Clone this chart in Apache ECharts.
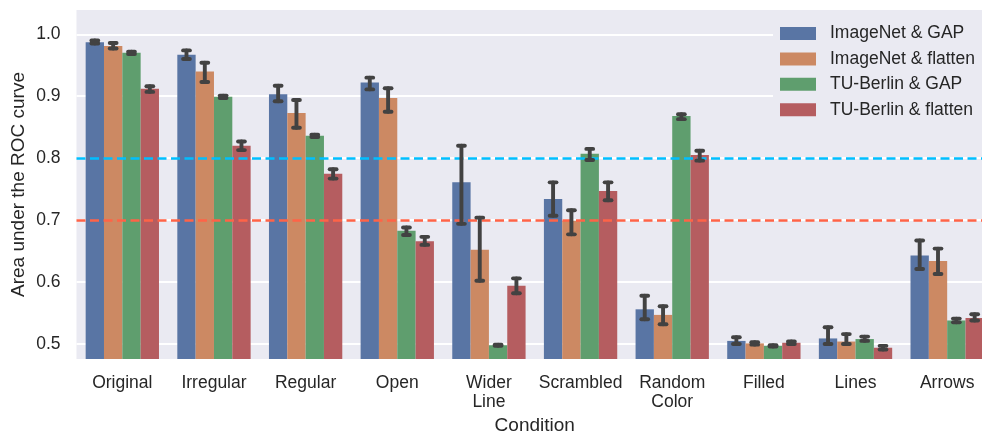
<!DOCTYPE html>
<html>
<head>
<meta charset="utf-8">
<script src="https://cdn.jsdelivr.net/npm/echarts@6/dist/echarts.min.js"></script>
<style>
  html, body { margin: 0; padding: 0; background: #ffffff; }
  #chart { width: 982px; height: 434px; }
</style>
</head>
<body>
<div id="chart"></div>
<script>
// Conditions along the x axis
const categories = ['Original', 'Irregular', 'Regular', 'Open', 'Wider\nLine', 'Scrambled', 'Random\nColor', 'Filled', 'Lines', 'Arrows'];

const seriesNames = ['ImageNet & GAP', 'ImageNet & flatten', 'TU-Berlin & GAP', 'TU-Berlin & flatten'];

// Mean AUC per condition
const imagenetGap     = [0.987, 0.967, 0.903, 0.922, 0.761, 0.734, 0.556, 0.505, 0.509, 0.643];
const imagenetFlatten = [0.981, 0.940, 0.873, 0.897, 0.652, 0.699, 0.547, 0.501, 0.504, 0.634];
const tuberlinGap     = [0.970, 0.899, 0.836, 0.683, 0.498, 0.807, 0.868, 0.497, 0.508, 0.538];
const tuberlinFlatten = [0.912, 0.820, 0.775, 0.666, 0.594, 0.747, 0.805, 0.502, 0.494, 0.542];

// Confidence interval bounds
const imagenetGapLow      = [0.985, 0.960, 0.892, 0.911, 0.694, 0.707, 0.540, 0.500, 0.500, 0.621];
const imagenetGapHigh     = [0.990, 0.974, 0.917, 0.930, 0.820, 0.761, 0.578, 0.511, 0.527, 0.667];
const imagenetFlattenLow  = [0.977, 0.923, 0.849, 0.875, 0.602, 0.677, 0.532, 0.499, 0.500, 0.613];
const imagenetFlattenHigh = [0.986, 0.954, 0.894, 0.913, 0.704, 0.716, 0.561, 0.503, 0.516, 0.654];
const tuberlinGapLow      = [0.968, 0.897, 0.834, 0.676, 0.497, 0.797, 0.863, 0.496, 0.505, 0.535];
const tuberlinGapHigh     = [0.972, 0.901, 0.838, 0.688, 0.499, 0.815, 0.871, 0.498, 0.512, 0.541];
const tuberlinFlattenLow  = [0.907, 0.813, 0.767, 0.660, 0.582, 0.732, 0.796, 0.500, 0.491, 0.538];
const tuberlinFlattenHigh = [0.916, 0.827, 0.782, 0.673, 0.606, 0.761, 0.812, 0.504, 0.497, 0.548];

// Reference thresholds
const thresholdHigh = 0.8;
const thresholdLow = 0.7;

const means = [imagenetGap, imagenetFlatten, tuberlinGap, tuberlinFlatten];
const lows  = [imagenetGapLow, imagenetFlattenLow, tuberlinGapLow, tuberlinFlattenLow];
const highs = [imagenetGapHigh, imagenetFlattenHigh, tuberlinGapHigh, tuberlinFlattenHigh];

const colors = ['#5975A4', '#CC8963', '#5F9E6E', '#B55D60'];
const textColor = '#262626';
const fontFamily = "'Liberation Sans', Arial, sans-serif";

const chart = echarts.init(document.getElementById('chart'), null, { renderer: 'canvas' });

const barSeries = means.map((vals, i) => ({
  name: seriesNames[i],
  type: 'bar',
  data: vals,
  barGap: '0%',
  barCategoryGap: '20%',
  itemStyle: { color: colors[i] },
  z: 2,
  markLine: i === 0 ? {
    silent: true,
    symbol: 'none',
    label: { show: false },
    z: 3,
    data: [
      { yAxis: thresholdHigh, lineStyle: { color: '#00BFFF', width: 2.5, type: [9, 4.5] } },
      { yAxis: thresholdLow, lineStyle: { color: '#FF6347', width: 2.5, type: [9, 4.5] } }
    ]
  } : undefined
}));

// Error bars drawn as custom marks, offset to sit on each bar of the group
const errSeries = means.map((vals, si) => ({
  name: 'err-' + si,
  type: 'custom',
  z: 5,
  data: categories.map((c, k) => [k, lows[si][k], highs[si][k]]),
  renderItem: function (params, api) {
    const k = api.value(0);
    const pLow = api.coord([k, api.value(1)]);
    const pHigh = api.coord([k, api.value(2)]);
    const band = api.size([1, 0])[0];
    const barW = band * 0.8 / 4;
    const cx = pLow[0] + (si - 1.5) * barW;
    const half = 3.4;
    const style = { stroke: '#424242', lineWidth: 3.9, lineCap: 'round', fill: null };
    return {
      type: 'group',
      children: [
        { type: 'line', shape: { x1: cx, y1: pLow[1], x2: cx, y2: pHigh[1] }, style: style },
        { type: 'line', shape: { x1: cx - half, y1: pLow[1], x2: cx + half, y2: pLow[1] }, style: style },
        { type: 'line', shape: { x1: cx - half, y1: pHigh[1], x2: cx + half, y2: pHigh[1] }, style: style }
      ]
    };
  }
}));

const option = {
  animation: false,
  textStyle: { fontFamily: fontFamily, color: textColor },
  grid: {
    left: 76.5,
    right: -11,
    top: 10,
    bottom: 75,
    outerBoundsMode: 'none',
    containLabel: false,
    show: true,
    backgroundColor: '#EAEAF2',
    borderWidth: 0
  },
  legend: {
    data: seriesNames,
    orient: 'vertical',
    left: 773,
    top: 11.5,
    padding: [12, 30, 10, 7],
    backgroundColor: '#EAEAF2',
    itemWidth: 36,
    itemHeight: 13,
    itemGap: 5.4,
    icon: 'rect',
    z: 10,
    textStyle: {
      fontFamily: fontFamily,
      fontSize: 17.5,
      color: textColor,
      lineHeight: 20,
      padding: [0, 0, 0, 9]
    }
  },
  xAxis: {
    type: 'category',
    data: categories,
    axisLine: { show: false },
    axisTick: { show: false },
    splitLine: { show: false },
    axisLabel: {
      fontFamily: fontFamily,
      fontSize: 17.5,
      lineHeight: 19,
      color: textColor,
      margin: 14.5,
      interval: 0
    },
    name: 'Condition',
    nameLocation: 'middle',
    nameGap: 57,
    nameMoveOverlap: false,
    nameTextStyle: { fontFamily: fontFamily, fontSize: 19, color: textColor }
  },
  yAxis: {
    type: 'value',
    min: 0.4758,
    max: 1.0392,
    splitNumber: 5,
    axisLine: { show: false },
    axisTick: { show: false },
    splitLine: {
      show: true,
      showMinLine: false,
      showMaxLine: false,
      lineStyle: { color: '#ffffff', width: 2 }
    },
    axisLabel: {
      fontFamily: fontFamily,
      fontSize: 17.5,
      color: textColor,
      margin: 16,
      showMinLabel: false,
      showMaxLabel: false,
      formatter: v => v.toFixed(1)
    },
    name: 'Area under the ROC curve',
    nameLocation: 'middle',
    nameGap: 48,
    nameMoveOverlap: false,
    nameTextStyle: { fontFamily: fontFamily, fontSize: 19, color: textColor }
  },
  series: barSeries.concat(errSeries)
};

chart.setOption(option);
</script>
</body>
</html>
